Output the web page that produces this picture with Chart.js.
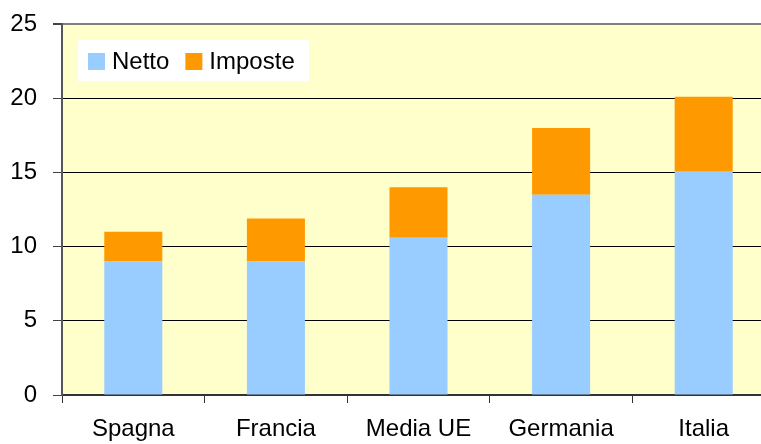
<!DOCTYPE html>
<html lang="it">
<head>
    <meta charset="UTF-8">
    <title>Netto e Imposte</title>
    <script src="https://cdn.jsdelivr.net/npm/chart.js"></script>
    <style>
        html, body {
            margin: 0;
            padding: 0;
            background: white;
            overflow: hidden;
        }
        #wrap {
            width: 775px;
            height: 444px;
        }
    </style>
</head>
<body>
    <div id="wrap"><canvas id="barChart" width="775" height="444"></canvas></div>
    <script>
        // dati
        const paesi = ['Spagna', 'Francia', 'Media UE', 'Germania', 'Italia'];
        const netto = [9, 9, 10.6, 13.5, 15.05];
        const imposte = [2, 2.9, 3.4, 4.5, 5.05];
        const yTicks = [0, 5, 10, 15, 20, 25];

        const fontMain = { family: 'Arial, "Liberation Sans", sans-serif', size: 24 };

        // sfondo giallo dell'area del grafico
        const plotBg = {
            id: 'plotBg',
            beforeDraw(chart) {
                const a = chart.chartArea;
                const c = chart.ctx;
                c.save();
                c.fillStyle = '#FFFFCC';
                c.fillRect(a.left, a.top, a.right - a.left, a.bottom - a.top);
                c.restore();
            }
        };

        // legenda con riquadro bianco
        const boxLegend = {
            id: 'boxLegend',
            afterDraw(chart) {
                const c = chart.ctx;
                const x = 78, y = 40;
                c.save();
                c.fillStyle = 'white';
                c.fillRect(x, y, 231, 41);
                c.font = '24px ' + fontMain.family;
                c.textBaseline = 'alphabetic';
                let cx = x + 10;
                chart.data.datasets.forEach(ds => {
                    c.fillStyle = ds.backgroundColor;
                    c.fillRect(cx, y + 13, 17, 17);
                    c.fillStyle = 'black';
                    c.fillText(ds.label, cx + 24, y + 29);
                    cx += 24 + c.measureText(ds.label).width + 16;
                });
                c.restore();
            }
        };

        const ctx = document.getElementById('barChart').getContext('2d');
        new Chart(ctx, {
            type: 'bar',
            data: {
                labels: paesi,
                datasets: [
                    { label: 'Netto', data: netto, backgroundColor: '#99CCFF' },
                    { label: 'Imposte', data: imposte, backgroundColor: '#FF9900' }
                ]
            },
            options: {
                responsive: false,
                animation: false,
                layout: { padding: { top: 24, left: 0, right: 0, bottom: 0 } },
                datasets: {
                    bar: { categoryPercentage: 1, barPercentage: 0.407 }
                },
                plugins: {
                    legend: { display: false },
                    tooltip: { enabled: false }
                },
                scales: {
                    x: {
                        stacked: true,
                        afterFit(scale) {
                            scale.height = 49;
                            scale.paddingLeft = 0;
                            scale.paddingRight = 0;
                        },
                        grid: {
                            drawOnChartArea: false,
                            color: '#333',
                            tickLength: 8
                        },
                        border: { color: '#333', width: 2 },
                        ticks: { color: 'black', font: fontMain, padding: 12, maxRotation: 0 }
                    },
                    y: {
                        stacked: true,
                        min: 0,
                        max: 25,
                        afterFit(scale) {
                            scale.width = 62;
                            scale.paddingTop = 0;
                            scale.paddingBottom = 0;
                        },
                        afterBuildTicks(scale) {
                            scale.ticks = yTicks.map(v => ({ value: v }));
                        },
                        grid: {
                            color: c => c.tick && c.tick.value === 25 ? '#808080' : 'black',
                            tickColor: '#444',
                            lineWidth: c => c.tick && c.tick.value === 25 ? 2 : 1,
                            tickLength: 9
                        },
                        border: { color: '#555', width: 2 },
                        ticks: { color: 'black', font: fontMain, padding: 16 }
                    }
                }
            },
            plugins: [plotBg, boxLegend]
        });
    </script>
</body>
</html>
